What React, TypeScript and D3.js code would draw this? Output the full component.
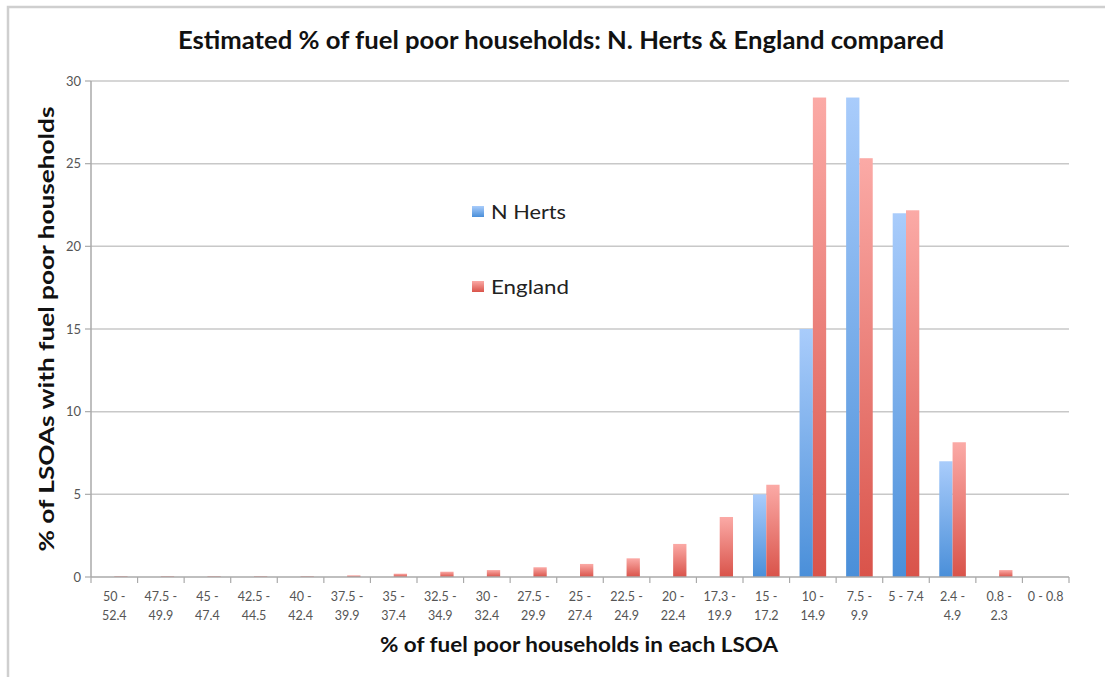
import React from "react";
import * as d3 from "d3";

const categories: string[][] = [
  ["50 -", "52.4"], ["47.5 -", "49.9"], ["45 -", "47.4"], ["42.5 -", "44.5"], ["40 -", "42.4"],
  ["37.5 -", "39.9"], ["35 -", "37.4"], ["32.5 -", "34.9"], ["30 -", "32.4"], ["27.5 -", "29.9"],
  ["25 -", "27.4"], ["22.5 -", "24.9"], ["20 -", "22.4"], ["17.3 -", "19.9"], ["15 -", "17.2"],
  ["10 -", "14.9"], ["7.5 -", "9.9"], ["5 - 7.4"], ["2.4 -", "4.9"], ["0.8 -", "2.3"], ["0 - 0.8"],
];
const nHerts: number[] = [0, 0, 0, 0, 0, 0, 0, 0, 0, 0, 0, 0, 0, 0, 5.0, 15.0, 29.0, 22.0, 7.0, 0, 0];
const england: number[] = [0.05, 0.05, 0.05, 0.05, 0.05, 0.1, 0.2, 0.32, 0.42, 0.59, 0.79, 1.13, 2.0, 3.63, 5.58, 29.0, 25.33, 22.18, 8.15, 0.42, 0];
const seriesNames = ["N Herts", "England"];
const yTicks = [0, 5, 10, 15, 20, 25, 30];

const W = 1105, H = 677;
const left = 91, right = 1069, top = 81, bottom = 577;
const FONT = "Lato, 'Open Sans', sans-serif";

export default function App() {
  const x = d3.scaleBand<number>().domain(d3.range(categories.length)).range([left, right]).padding(0);
  const y = d3.scaleLinear().domain([0, 30]).range([bottom, top]);
  const barW = 13.3;
  const inner = d3.scaleBand<string>().domain(seriesNames).range([-barW, barW]).padding(0);
  const data = [nHerts, england];
  const grads = ["gBlue", "gRed"];

  return (
    <svg width={W} height={H} style={{ position: "absolute", left: 0, top: 0, background: "#fff" }}>
      <defs>
        <linearGradient id="gBlue" x1="0" y1="0" x2="0" y2="1">
          <stop offset="0" stopColor="#a9ccfb" />
          <stop offset="1" stopColor="#4a8fd9" />
        </linearGradient>
        <linearGradient id="gRed" x1="0" y1="0" x2="0" y2="1">
          <stop offset="0" stopColor="#fbaaa6" />
          <stop offset="1" stopColor="#d9534a" />
        </linearGradient>
      </defs>
      <rect x={0} y={0} width={W} height={H} fill="#fff" />
      {/* frame */}
      <path d={`M8,${H} L8,7 L${W},7`} fill="none" stroke="#cfcfcf" strokeWidth={2.5} />
      {/* title */}
      <text x={561} y={49} textAnchor="middle" fontFamily={FONT} fontWeight={700} fontSize={24} fill="#111"
        textLength={766} lengthAdjust="spacingAndGlyphs">
        Estimated % of fuel poor households: N. Herts &amp; England compared
      </text>
      {/* gridlines */}
      {yTicks.map((t) => (
        <g key={t}>
          {t > 0 && <line x1={left} x2={right} y1={y(t)} y2={y(t)} stroke="#c8c8c8" strokeWidth={1.5} />}
          <line x1={left - 6} x2={left} y1={y(t)} y2={y(t)} stroke="#aaa" strokeWidth={1.2} />
          <text x={left - 10} y={y(t) + 4.5} textAnchor="end" fontFamily={FONT} fontSize={13} fill="#555">{t}</text>
        </g>
      ))}
      {/* bars */}
      {data.map((vals, si) =>
        vals.map((v, i) => {
          if (v <= 0) return null;
          const cx = (x(i) as number) + x.bandwidth() / 2;
          const bx = cx + (inner(seriesNames[si]) as number);
          return (
            <rect key={`${si}-${i}`} x={bx} y={y(v)} width={inner.bandwidth()} height={bottom - y(v)} fill={`url(#${grads[si]})`} />
          );
        })
      )}
      {/* axes */}
      <line x1={left} x2={left} y1={top} y2={bottom} stroke="#aaa" strokeWidth={1.5} />
      <line x1={left} x2={right} y1={bottom} y2={bottom} stroke="#aaa" strokeWidth={1.5} />
      {d3.range(categories.length + 1).map((i) => {
        const xx = left + i * x.bandwidth();
        return <line key={i} x1={xx} x2={xx} y1={bottom} y2={bottom + 6} stroke="#aaa" strokeWidth={1.2} />;
      })}
      {categories.map((lines, i) => {
        const cx = (x(i) as number) + x.bandwidth() / 2;
        return (
          <text key={i} textAnchor="middle" fontFamily={FONT} fontSize={12.5} fill="#555">
            {lines.map((l, j) => (
              <tspan key={j} x={cx} y={601 + j * 19}>{l}</tspan>
            ))}
          </text>
        );
      })}
      {/* axis titles */}
      <text x={579} y={652} textAnchor="middle" fontFamily={FONT} fontWeight={700} fontSize={20} fill="#111"
        textLength={398} lengthAdjust="spacingAndGlyphs">
        % of fuel poor households in each LSOA
      </text>
      <text transform={`translate(54,329) rotate(-90)`} textAnchor="middle" fontFamily={FONT} fontWeight={700} fontSize={20} fill="#111"
        textLength={445} lengthAdjust="spacingAndGlyphs">
        % of LSOAs with fuel poor households
      </text>
      {/* legend */}
      {seriesNames.map((s, i) => (
        <g key={s} transform={`translate(472,${212 + i * 75})`}>
          <rect x={0} y={-6} width={12} height={11} fill={`url(#${grads[i]})`} />
          <text x={19} y={7} fontFamily={FONT} fontSize={20} fill="#222" textLength={s === "England" ? 78 : 75} lengthAdjust="spacingAndGlyphs">{s}</text>
        </g>
      ))}
    </svg>
  );
}
